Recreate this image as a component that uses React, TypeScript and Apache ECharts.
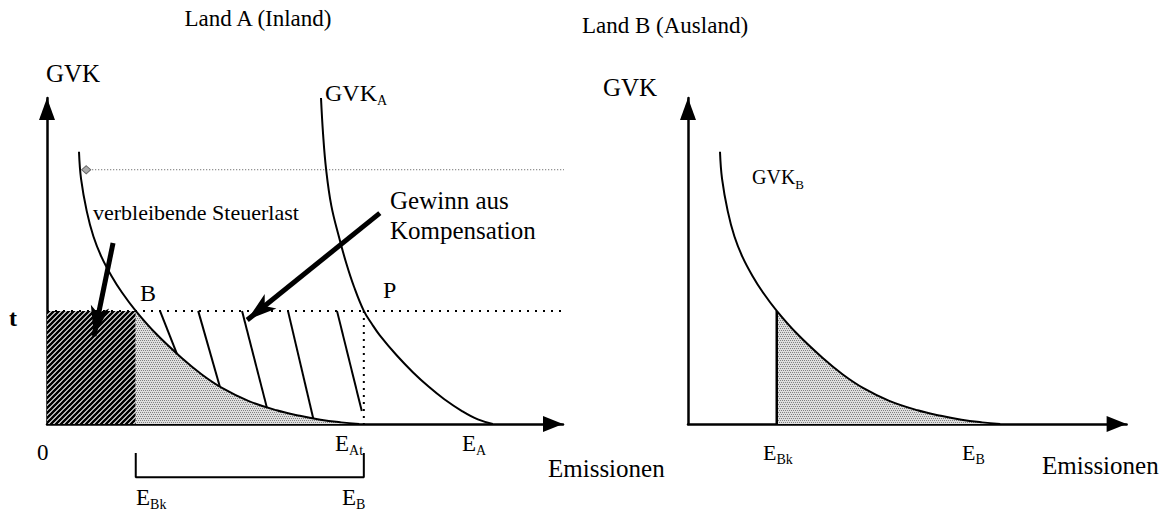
import { useEffect, useRef } from "react";
import * as echarts from "echarts";

const FONT = "'Liberation Serif', 'Times New Roman', Times, serif";

// ---- Diagram values (units: x = Emissionen, y = GVK; axis tops at 100) ----
const tLevel = 34.7; // Steuersatz t
const transferLevel = 78; // level of the transfer (dotted) line
const eBk = 17.2; // E_Bk
const eAt = 61.4; // E_At (= E_B in Land A)

// GVK_B curve (used in both panels)
const gvkBX = [6.2, 6.6, 7.7, 9, 10.6, 12.5, 14.5, 17.2, 21, 26, 30, 34, 39, 44.5, 49, 53, 57, 60.5];
const gvkBY = [83.5, 75.2, 65.3, 57.5, 51.1, 45.4, 40.4, 34.7, 27.9, 20.4, 15.2, 11, 7.1, 4.2, 2.5, 1.3, 0.5, 0];

// GVK_A curve (Land A)
const gvkAX = [53.1, 53.5, 54.1, 55.1, 56.6, 58, 59.5, 61.4, 63, 64.5, 67.8, 70.9, 74, 77, 80.5, 83.5, 86.4];
const gvkAY = [100, 89, 78, 67, 57.3, 49.3, 42.1, 34.7, 30.6, 27.2, 21.0, 15.9, 11.4, 7.6, 3.9, 1.4, 0];

// hatch strokes in "Gewinn aus Kompensation" area
const hatchStartX = [21.9, 29.3, 37.8, 46.7, 56.2];
const hatchEndX = [25.2, 33.5, 42.6, 51.6, 61.0];
const hatchEndY = [21.4, 11.4, 5.1, 1.7, 4.0];

// annotation arrows: [start, arrow head]
const steuerArrow = [[12.8, 55.5], [9.1, 27.0]];
const gewinnArrow = [[64.5, 64.7], [38.8, 31.9]];

// bracket under Land A axis
const bracketX = [eBk, eAt];
const bracketY = [-8.9, -16.3];

const transferStartX = 7.6; // left end (copy of GVK_B in Land A)
const transferEndX = 6.6; // right end (GVK_B in Land B)

const leftXMax = 100;
const rightXMax = 85;
const yMax = 100;

// ---- Layout (px) ----
const W = 1171;
const H = 512;
const AX_LEFT = 47;
const AX_RIGHT = 688;
const AX_TOP = 98;
const AX_BOTTOM = 424;
const LEFT_W = 516;
const PX_X = LEFT_W / leftXMax;
const PX_Y = (AX_BOTTOM - AX_TOP) / yMax;
const RIGHT_W = rightXMax * PX_X;
const rightOffset = (AX_RIGHT - AX_LEFT) / PX_X; // right origin in left units

function makeHatch() {
  const c = document.createElement("canvas");
  c.width = 5;
  c.height = 5;
  const g = c.getContext("2d")!;
  g.fillStyle = "#fff";
  g.fillRect(0, 0, 5, 5);
  g.strokeStyle = "#000";
  g.lineWidth = 2.6;
  g.beginPath();
  g.moveTo(-1, 6);
  g.lineTo(6, -1);
  g.moveTo(-1, 1);
  g.lineTo(1, -1);
  g.moveTo(4, 6);
  g.lineTo(6, 4);
  g.stroke();
  return c;
}

function makeStipple() {
  const c = document.createElement("canvas");
  c.width = 4;
  c.height = 4;
  const g = c.getContext("2d")!;
  g.fillStyle = "#dedede";
  g.fillRect(0, 0, 4, 4);
  g.fillStyle = "#808080";
  [[0, 0], [2, 0], [1, 2], [3, 2]].forEach(([x, y]) => g.fillRect(x, y, 1, 1));
  return c;
}

function txt(x: number, y: number, text: string, size = 23, opts: any = {}) {
  return {
    type: "text",
    x,
    y,
    silent: true,
    style: {
      text,
      font: `${opts.bold ? "bold " : ""}${size}px ${FONT}`,
      fill: "#000",
      textAlign: opts.align || "left",
      align: opts.align || "left",
      textVerticalAlign: "middle",
      verticalAlign: "middle",
    },
  };
}

function sub(x: number, y: number, main: string, s: string, size = 23, subSize = 14) {
  return {
    type: "text",
    x,
    y,
    silent: true,
    style: {
      text: `{m|${main}}{s|${s}}`,
      font: `${size}px ${FONT}`,
      fill: "#000",
      textAlign: "left",
      align: "left",
      textVerticalAlign: "middle",
      verticalAlign: "middle",
      rich: {
        m: { fontSize: size, fontFamily: FONT, fill: "#000", color: "#000" },
        s: { fontSize: subSize, fontFamily: FONT, fill: "#000", color: "#000", padding: [14, 0, 0, 0] },
      },
    },
  };
}

function arrowSeries(pts: number[][]) {
  const [[x1, y1], [x2, y2]] = pts;
  const phi = (Math.atan2((y2 - y1) * PX_Y, (x2 - x1) * PX_X) * 180) / Math.PI;
  return {
    type: "line",
    xAxisIndex: 0,
    yAxisIndex: 0,
    clip: false,
    silent: true,
    symbol: "none",
    z: 6,
    lineStyle: { color: "#000", width: 5 },
    itemStyle: { color: "#000" },
    data: [
      { value: [x1, y1], symbol: "none" },
      { value: [x2, y2], symbol: "arrow", symbolSize: [14, 30], symbolRotate: phi - 90 },
    ],
  };
}

export default function App() {
  const ref = useRef<HTMLDivElement>(null);

  useEffect(() => {
    if (!ref.current) return;
    const chart = echarts.init(ref.current, null, { renderer: "svg" });
    const hatch = { image: makeHatch(), repeat: "repeat" };
    const stipple = { image: makeStipple(), repeat: "repeat" };

    const gvkB = gvkBX.map((x, i) => [x, gvkBY[i]]);
    const gvkA = gvkAX.map((x, i) => [x, gvkAY[i]]);
    const shade = gvkB.filter((p) => p[0] >= eBk);

    const axisLine = (len: number) => ({
      show: true,
      onZero: false,
      symbol: ["none", "triangle"],
      symbolSize: [16, len],
      symbolOffset: [0, -len / 2],
      lineStyle: { color: "#000", width: 2.5 },
    });
    const hidden = { axisTick: { show: false }, axisLabel: { show: false }, splitLine: { show: false } };

    const line = (data: any, extra: any = {}) => ({
      type: "line",
      silent: true,
      symbol: "none",
      xAxisIndex: 0,
      yAxisIndex: 0,
      lineStyle: { color: "#000", width: 2 },
      data,
      ...extra,
    });

    const curveStyle = { smooth: 0.4, lineStyle: { color: "#000", width: 2 } };

    const option: any = {
      animation: false,
      backgroundColor: "#fff",
      grid: [
        { left: AX_LEFT, top: AX_TOP, width: LEFT_W, height: AX_BOTTOM - AX_TOP, containLabel: false, outerBoundsMode: "none" },
        { left: AX_RIGHT, top: AX_TOP, width: RIGHT_W, height: AX_BOTTOM - AX_TOP, containLabel: false, outerBoundsMode: "none" },
      ],
      xAxis: [
        { type: "value", gridIndex: 0, min: 0, max: leftXMax, axisLine: axisLine(20), ...hidden },
        { type: "value", gridIndex: 1, min: 0, max: rightXMax, axisLine: axisLine(20), ...hidden },
      ],
      yAxis: [
        { type: "value", gridIndex: 0, min: 0, max: yMax, axisLine: axisLine(22), ...hidden },
        { type: "value", gridIndex: 1, min: 0, max: yMax, axisLine: axisLine(22), ...hidden },
      ],
      series: [
        // verbleibende Steuerlast (hatched rectangle)
        line([[0, tLevel], [eBk, tLevel]], {
          z: 1,
          lineStyle: { width: 0, opacity: 0 },
          areaStyle: { color: hatch, opacity: 1 },
        }),
        // stippled area under GVK_B in Land A
        line(shade, {
          z: 1,
          smooth: 0.4,
          lineStyle: { width: 0, opacity: 0 },
          areaStyle: { color: stipple, opacity: 1 },
        }),
        // stippled area under GVK_B in Land B
        line(shade, {
          xAxisIndex: 1,
          yAxisIndex: 1,
          z: 1,
          smooth: 0.4,
          lineStyle: { width: 0, opacity: 0 },
          areaStyle: { color: stipple, opacity: 1 },
        }),
        // t line across both panels
        line([[0, tLevel], [rightOffset + eBk, tLevel]], {
          clip: false,
          z: 2,
          lineStyle: { color: "#000", width: 2, type: [2, 6] },
        }),
        // transfer line (dotted) with marker
        line(
          [
            { value: [transferStartX, transferLevel], symbol: "diamond", symbolSize: [9, 8] },
            { value: [rightOffset + transferEndX, transferLevel], symbol: "none" },
          ],
          {
            clip: false,
            z: 2,
            itemStyle: { color: "#aaa", borderColor: "#666", borderWidth: 1 },
            lineStyle: { color: "#555", width: 1, type: [1, 2] },
          }
        ),
        // P vertical dotted
        line([[eAt, tLevel], [eAt, 0]], { z: 2, lineStyle: { color: "#000", width: 2, type: [2, 5] } }),
        // curves
        line(gvkB, { z: 4, ...curveStyle }),
        line(gvkA, { z: 4, ...curveStyle }),
        line(gvkB, { xAxisIndex: 1, yAxisIndex: 1, z: 4, ...curveStyle }),
        // E_Bk vertical in Land B
        line([[eBk, tLevel], [eBk, 0]], { xAxisIndex: 1, yAxisIndex: 1, z: 4, lineStyle: { color: "#000", width: 2.5 } }),
        // hatch strokes
        ...hatchStartX.map((x, i) =>
          line([[x, tLevel], [hatchEndX[i], hatchEndY[i]]], { z: 3, lineStyle: { color: "#000", width: 2 } })
        ),
        // bracket
        line(
          [
            [bracketX[0], bracketY[0]],
            [bracketX[0], bracketY[1]],
            [bracketX[1], bracketY[1]],
            [bracketX[1], bracketY[0]],
          ],
          { clip: false, z: 3, lineStyle: { color: "#000", width: 2 } }
        ),
        arrowSeries(steuerArrow),
        arrowSeries(gewinnArrow),
      ],
      graphic: [
        txt(258, 18, "Land A (Inland)", 23, { align: "center" }),
        txt(665, 25, "Land B (Ausland)", 23, { align: "center" }),
        txt(46, 73, "GVK", 25),
        sub(325, 93, "GVK", "A", 24, 14),
        txt(603, 87, "GVK", 25),
        sub(752, 177, "GVK", "B", 20, 13),
        txt(93, 212, "verbleibende Steuerlast", 22),
        txt(390, 200, "Gewinn aus", 25),
        txt(390, 230, "Kompensation", 25),
        txt(140, 293, "B", 24),
        txt(383, 290, "P", 24),
        txt(9, 318, "t", 24, { bold: true }),
        txt(37, 452, "0", 23),
        sub(335, 443, "E", "At", 23, 14),
        sub(462, 443, "E", "A", 23, 14),
        txt(548, 468, "Emissionen", 25),
        sub(136, 497, "E", "Bk", 23, 14),
        sub(342, 497, "E", "B", 23, 14),
        sub(763, 452, "E", "Bk", 22, 14),
        sub(962, 452, "E", "B", 22, 14),
        txt(1042, 465, "Emissionen", 25),
      ],
    };

    chart.setOption(option);
    return () => chart.dispose();
  }, []);

  return (
    <div
      ref={ref}
      style={{ position: "fixed", left: 0, top: 0, width: W, height: H, background: "#fff" }}
    />
  );
}
